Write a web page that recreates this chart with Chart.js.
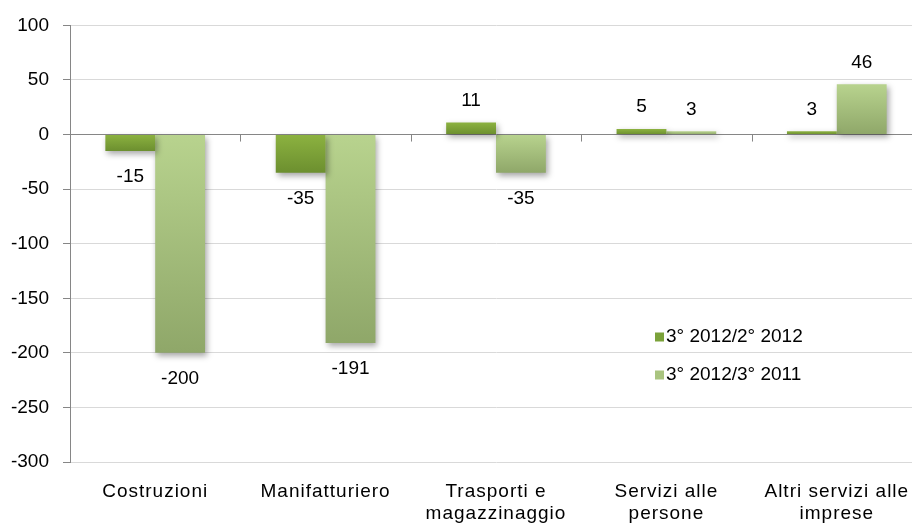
<!DOCTYPE html>
<html>
<head>
<meta charset="utf-8">
<script src="https://cdn.jsdelivr.net/npm/chart.js@4/dist/chart.umd.min.js"></script>
<style>
  html, body { margin: 0; padding: 0; background: #fff; overflow: hidden; }
  #wrap { width: 922px; height: 524px; }
</style>
</head>
<body>
<div id="wrap"><canvas id="chart"></canvas></div>
<script>
/* data */
const categories = [
    ['Costruzioni'],
    ['Manifatturiero'],
    ['Trasporti e', 'magazzinaggio'],
    ['Servizi alle', 'persone'],
    ['Altri servizi alle', 'imprese']
];
const seriesNames = ['3° 2012/2° 2012', '3° 2012/3° 2011'];
const quarterOnQuarter = [-15, -35, 11, 5, 3];
const yearOnYear = [-200, -191, -35, 3, 46];
const yMin = -300, yMax = 100, yStep = 50;

const FONT = 'Liberation Sans, Arial, sans-serif';

/*vertical gradient from top of the bar to its bottom*/
function barGradient(top, bottom) {
    return (ctx) => {
        const chart = ctx.chart;
        const y = chart.scales && chart.scales.y;
        if (!y || ctx.type !== 'data') return bottom;
        const p1 = y.getPixelForValue(ctx.raw);
        const p0 = y.getPixelForValue(0);
        if (!isFinite(p1) || !isFinite(p0)) return bottom;
        const g = chart.ctx.createLinearGradient(0, Math.min(p0, p1), 0, Math.max(p0, p1) + 0.01);
        g.addColorStop(0, top);
        g.addColorStop(1, bottom);
        return g;
    };
}

/*soft shadow under the bars + tick marks on the zero line*/
const barShadow = {
    id: 'barShadow',
    beforeDatasetsDraw(chart) {
        const {ctx, scales: {x, y}} = chart;
        const y0 = y.getPixelForValue(0);
        ctx.save();
        ctx.strokeStyle = '#868686';
        ctx.lineWidth = 1;
        for (let i = 1; i < categories.length; i++) {
            const px = Math.round((x.getPixelForTick(i - 1) + x.getPixelForTick(i)) / 2) + 0.5;
            ctx.beginPath();
            ctx.moveTo(px, y0);
            ctx.lineTo(px, y0 + 7);
            ctx.stroke();
        }
        ctx.restore();

        ctx.save();
        ctx.shadowColor = 'rgba(0,0,0,0.35)';
        ctx.shadowBlur = 6;
        ctx.shadowOffsetX = 2;
        ctx.shadowOffsetY = 3;
    },
    afterDatasetsDraw(chart) {
        chart.ctx.restore();
    }
};

/*value labels outside the bar end*/
const valueLabels = {
    id: 'valueLabels',
    afterDatasetsDraw(chart) {
        const ctx = chart.ctx;
        ctx.save();
        ctx.font = '19px ' + FONT;
        ctx.fillStyle = '#000';
        ctx.textAlign = 'center';
        ctx.textBaseline = 'middle';
        chart.data.datasets.forEach((ds, i) => {
            chart.getDatasetMeta(i).data.forEach((bar, j) => {
                const v = ds.data[j];
                const ty = v >= 0 ? bar.y - 22 : bar.y + 26;
                ctx.fillText(String(v), bar.x, ty);
            });
        });
        ctx.restore();
    }
};

/*legend inside the plot*/
const insideLegend = {
    id: 'insideLegend',
    afterDraw(chart) {
        const ctx = chart.ctx;
        ctx.save();
        ctx.font = '19px ' + FONT;
        ctx.textBaseline = 'middle';
        ctx.textAlign = 'left';
        const rows = [337, 375];
        chart.data.datasets.forEach((ds, i) => {
            ctx.fillStyle = ds.borderColor;
            ctx.fillRect(655, rows[i] - 4.5, 9, 9);
            ctx.fillStyle = '#000';
            ctx.fillText(ds.label, 666, rows[i]);
        });
        ctx.restore();
    }
};

/*a bit of letter spacing on the category labels*/
const spacedLabels = {
    id: 'spacedLabels',
    beforeDraw(chart) {
        const xs = chart.scales.x;
        if (xs._spaced) return;
        const orig = xs.drawLabels;
        xs.drawLabels = function (area) {
            this.ctx.save();
            this.ctx.letterSpacing = '1px';
            orig.call(this, area);
            this.ctx.restore();
        };
        xs._spaced = true;
    }
};

new Chart(document.getElementById('chart'), {
    type: 'bar',
    data: {
        labels: categories,
        datasets: [{
            label: seriesNames[0],
            data: quarterOnQuarter,
            backgroundColor: barGradient('#8CB240', '#6C8F2F'),
            borderColor: '#7BA23A',
            borderWidth: 0
        },
        {
            label: seriesNames[1],
            data: yearOnYear,
            backgroundColor: barGradient('#B8D38E', '#8FA769'),
            borderColor: '#A9C47F',
            borderWidth: 0
        }]
    },
    options: {
        responsive: true,
        maintainAspectRatio: false,
        animation: false,
        layout: { padding: { top: 19, right: 0, left: 0, bottom: 0 } },
        datasets: {
            bar: { categoryPercentage: 0.585, barPercentage: 1.0 }
        },
        scales: {
            x: {
                grid: { display: false, drawTicks: false },
                border: { display: false },
                ticks: {
                    color: '#000',
                    font: { family: FONT, size: 19, lineHeight: 1.2 },
                    padding: 18,
                    maxRotation: 0,
                    autoSkip: false
                },
                afterFit: (s) => { s.height = 62; }
            },
            y: {
                min: yMin,
                max: yMax,
                ticks: {
                    stepSize: yStep,
                    color: '#000',
                    font: { family: FONT, size: 19 },
                    padding: 14
                },
                grid: {
                    color: (c) => (c.tick && c.tick.value === 0 ? '#868686' : '#D9D9D9'),
                    tickColor: '#868686',
                    tickLength: 7,
                    lineWidth: 1
                },
                border: { color: '#868686', width: 1 },
                afterFit: (s) => { s.width = 70; }
            }
        },
        plugins: {
            legend: { display: false },
            tooltip: { enabled: false }
        }
    },
    plugins: [barShadow, valueLabels, insideLegend, spacedLabels]
});
</script>
</body>
</html>
